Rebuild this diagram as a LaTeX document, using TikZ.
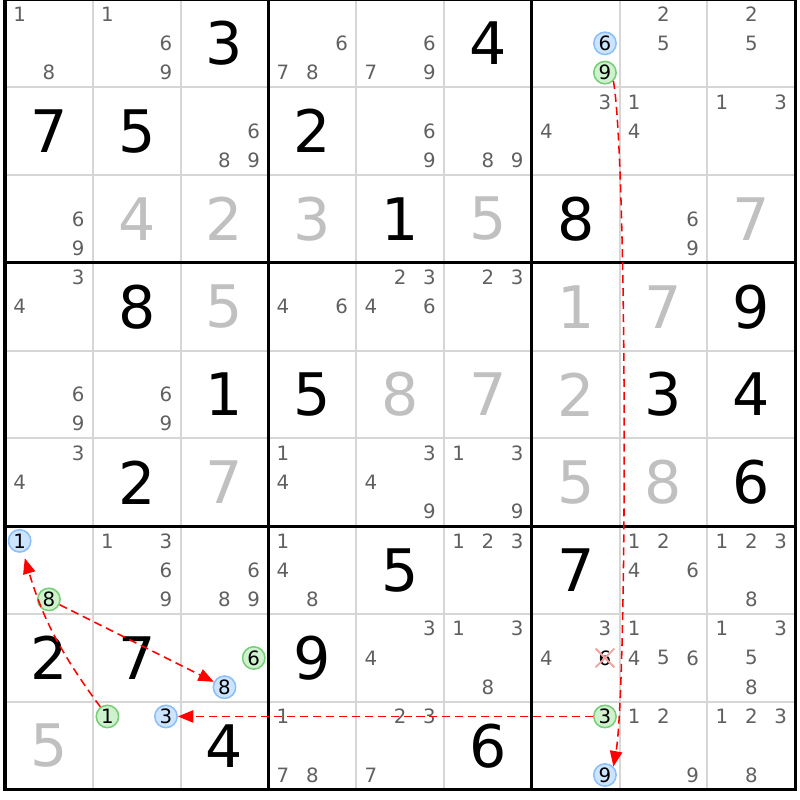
\documentclass[tikz,border=0pt]{standalone}
\usepackage{fontspec}
\setmainfont{DejaVu Sans}
\usetikzlibrary{arrows.meta,shapes.misc}
\definecolor{candgray}{RGB}{96,96,96}
\definecolor{fadegray}{RGB}{192,192,192}
\definecolor{linegray}{RGB}{214,214,214}
\definecolor{markblue}{RGB}{205,228,255}
\definecolor{rimblue}{RGB}{140,190,250}
\definecolor{markgreen}{RGB}{205,242,205}
\definecolor{rimgreen}{RGB}{120,205,120}
\definecolor{crosspink}{RGB}{245,160,160}

\begin{document}
\begin{tikzpicture}[
    cand/.style={text=candgray, font=\fontsize{6.4}{6.4}\selectfont, inner sep=0pt},
    big/.style={font=\fontsize{19}{19}\selectfont, inner sep=0pt},
    faded/.style={big, text=fadegray},
    bluemark/.style={circle, draw=rimblue, fill=markblue, line width=0.5pt,
      minimum size=0.255cm, inner sep=0pt, font=\fontsize{6.4}{6.4}\selectfont},
    greenmark/.style={bluemark, draw=rimgreen, fill=markgreen},
    struck/.style={cross out, draw=crosspink, line width=0.6pt, minimum size=5.5pt,
      inner sep=0pt, font=\fontsize{6.4}{6.4}\selectfont},
    link/.style={red, line width=0.5pt, dash pattern=on 2.6pt off 1.6pt,
      -{Triangle[length=5pt,width=4pt]}}
  ]
  \useasboundingbox (-0.057,-0.117) rectangle (9.055,8.994);

  % grid
  \draw[linegray, line width=0.65pt] (0,0) grid (9,9);
  \draw[line width=1pt] (0,0) grid[step=3] (9,9);
  \draw[line width=1pt] (0,0) rectangle (9,9);

  % placed digits
  \foreach \r/\c/\d in {0/2/3, 0/5/4, 1/0/7, 1/1/5, 1/3/2, 2/4/1, 2/6/8,
      3/1/8, 3/8/9, 4/2/1, 4/3/5, 4/7/3, 4/8/4, 5/1/2, 5/8/6,
      6/4/5, 6/6/7, 7/0/2, 7/1/7, 7/3/9, 8/2/4, 8/5/6}
    \node[big] (n\r\c) at (\c+.5, 8.5-\r) {\d};

  % given digits
  \foreach \r/\c/\d in {2/1/4, 2/2/2, 2/3/3, 2/5/5, 2/8/7, 3/2/5, 3/6/1, 3/7/7,
      4/4/8, 4/5/7, 4/6/2, 5/2/7, 5/6/5, 5/7/8, 8/0/5}
    \node[faded] (n\r\c) at (\c+.5, 8.5-\r) {\d};

  % candidates
  \foreach \r/\c/\d in {0/0/1, 0/0/8, 0/1/1, 0/1/6, 0/1/9, 0/3/6, 0/3/7, 0/3/8,
      0/4/6, 0/4/7, 0/4/9, 0/7/2, 0/7/5, 0/8/2, 0/8/5,
      1/2/6, 1/2/8, 1/2/9, 1/4/6, 1/4/9, 1/5/8, 1/5/9, 1/6/3, 1/6/4,
      1/7/1, 1/7/4, 1/8/1, 1/8/3,
      2/0/6, 2/0/9, 2/7/6, 2/7/9,
      3/0/3, 3/0/4, 3/3/4, 3/3/6, 3/4/2, 3/4/3, 3/4/4, 3/4/6, 3/5/2, 3/5/3,
      4/0/6, 4/0/9, 4/1/6, 4/1/9,
      5/0/3, 5/0/4, 5/3/1, 5/3/4, 5/4/3, 5/4/4, 5/4/9, 5/5/1, 5/5/3, 5/5/9,
      6/1/1, 6/1/3, 6/1/6, 6/1/9, 6/2/6, 6/2/8, 6/2/9, 6/3/1, 6/3/4, 6/3/8,
      6/5/1, 6/5/2, 6/5/3, 6/7/1, 6/7/2, 6/7/4, 6/7/6, 6/8/1, 6/8/2, 6/8/3, 6/8/8,
      7/4/3, 7/4/4, 7/5/1, 7/5/3, 7/5/8, 7/6/3, 7/6/4, 7/7/1, 7/7/4, 7/7/5, 7/7/6,
      7/8/1, 7/8/3, 7/8/5, 7/8/8,
      8/3/1, 8/3/7, 8/3/8, 8/4/2, 8/4/3, 8/4/7, 8/7/1, 8/7/2, 8/7/9,
      8/8/1, 8/8/2, 8/8/3, 8/8/8} {
    \pgfmathsetmacro\cx{\c+(mod(\d-1,3)+.5)/3}
    \pgfmathsetmacro\cy{8.5-\r-(floor((\d-1)/3)-1)/3}
    \node[cand] (p\r\c\d) at (\cx,\cy) {\d};
  }

  % marked candidates
  \node[bluemark] (b6) at (6+5/6, 8.5) {6};
  \node[greenmark] (g9) at (6+5/6, 8+1/6) {9};
  \node[bluemark] (b1) at (1/6, 2+5/6) {1};
  \node[greenmark] (g8) at (0.5, 2+1/6) {8};
  \node[greenmark] (g6) at (2+5/6, 1.5) {6};
  \node[bluemark] (b8) at (2.5, 1+1/6) {8};
  \node[greenmark] (g1) at (1+1/6, 5/6) {1};
  \node[bluemark] (b3) at (1+5/6, 5/6) {3};
  \node[greenmark] (g3) at (6+5/6, 5/6) {3};
  \node[bluemark] (b9) at (6+5/6, 1/6) {9};
  \node[struck] (x6) at (6+5/6, 1.5) {6};

  % chain
  \draw[link] (g9.-45) to[out=-80, in=80, looseness=0.3] (b9.45);
  \draw[link] (g3) -- (b3);
  \draw[link, shorten >=2pt] (g1) to[bend left=10] (b1);
  \draw[link] (g8) -- (b8);
\end{tikzpicture}
\end{document}
